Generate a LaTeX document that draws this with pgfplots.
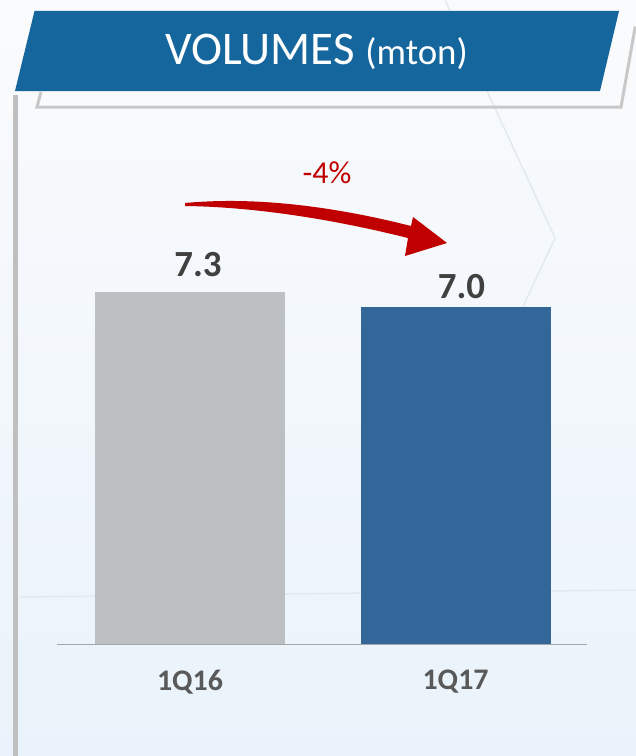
\documentclass[border=0pt]{standalone}
\usepackage{pgfplots}
\pgfplotsset{compat=1.18}
\usepackage{fontspec}
\setmainfont{Carlito}
\definecolor{bgtop}{RGB}{250,251,252}
\definecolor{bgbot}{RGB}{234,243,251}
\definecolor{faint}{RGB}{226,234,241}
\definecolor{outlinegray}{RGB}{200,200,200}
\definecolor{banner}{RGB}{22,102,158}
\definecolor{leftgray}{RGB}{191,191,191}
\definecolor{graybar}{RGB}{189,192,194}
\definecolor{bluebar}{RGB}{51,103,154}
\definecolor{valgray}{RGB}{64,64,64}
\definecolor{labgray}{RGB}{89,89,89}
\definecolor{axisgray}{RGB}{166,166,166}
\definecolor{arrowred}{RGB}{192,0,0}
\begin{document}
\begin{tikzpicture}
\begin{scope}[x=1bp,y=-1bp]
\path[use as bounding box, top color=bgtop, bottom color=bgbot] (0,0) rectangle (636,756);
\draw[faint, line width=1.5bp] (445,0) -- (555,238) -- (470,420);
\draw[faint, line width=1.5bp] (20,597) -- (636,590);
\draw[outlinegray, line width=3bp] (41,92) -- (37,107) -- (621,107) -- (635,28) -- (640,28);
\fill[banner] (34.5,11) -- (619,11) -- (600,91) -- (15,91) -- cycle;
\node[white, anchor=base, inner sep=0pt, font=\fontsize{47}{50}\selectfont] at (316.5,65) {VOLUMES {\fontsize{37}{40}\selectfont (mton)}};
\draw[leftgray, line width=5bp] (15,95) -- (15,756);
\fill[arrowred] (185,203) .. controls (260,196) and (340,208) .. (411,226) -- (413,217) -- (447,243) -- (405,256) -- (408,238) .. controls (340,221) and (260,207) .. (185,206) -- cycle;
\node[arrowred, inner sep=0pt, font=\fontsize{32}{34}\selectfont] at (327,173) {-4\%};
\end{scope}
\begin{axis}[
  at={(57bp,-644bp)}, anchor=south west,
  scale only axis, width=530bp, height=482bp,
  xmin=-0.501, xmax=1.495, ymin=0, ymax=10,
  axis x line*=bottom, axis y line=none,
  x axis line style={axisgray, line width=1bp},
  xtick={0,1}, xticklabels={\textbf{1Q16},\textbf{1Q17}},
  major tick length=0pt,
  xticklabel style={anchor=center, yshift=-38bp, text=labgray, font=\fontsize{30}{32}\selectfont},
  ytick=\empty,
  clip=false,
  /pgf/number format/assume math mode=true,
]
\addplot[ybar, bar width=190bp, bar shift=0pt, fill=graybar, draw=none,
  nodes near coords={\textbf{\pgfmathprintnumber[fixed,fixed zerofill,precision=1]{\pgfplotspointmeta}}},
  every node near coord/.append style={anchor=base, inner sep=0pt, yshift=16bp, xshift=8bp, text=valgray, font=\fontsize{37}{40}\selectfont}]
  coordinates {(0,7.3)};
\addplot[ybar, bar width=190bp, bar shift=0pt, fill=bluebar, draw=none,
  nodes near coords={\textbf{\pgfmathprintnumber[fixed,fixed zerofill,precision=1]{\pgfplotspointmeta}}},
  every node near coord/.append style={anchor=base, inner sep=0pt, yshift=8bp, xshift=6bp, text=valgray, font=\fontsize{37}{40}\selectfont}]
  coordinates {(1,7.0)};
\end{axis}
\end{tikzpicture}
\end{document}
